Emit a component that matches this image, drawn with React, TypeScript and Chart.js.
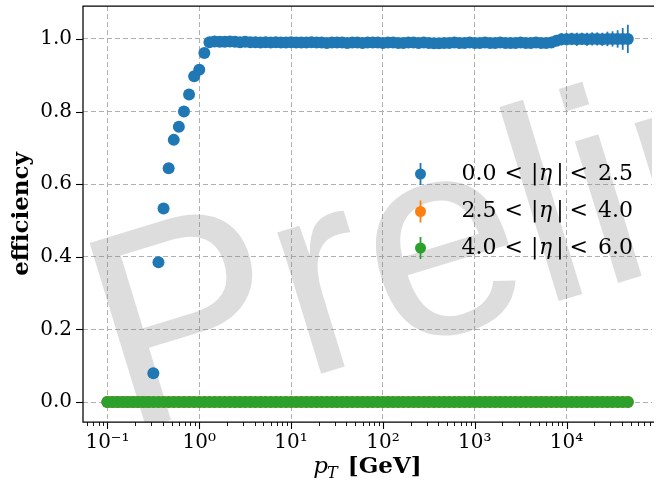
import React, { useEffect, useRef } from 'react';
import { Chart, registerables } from 'chart.js';

Chart.register(...registerables);

// ---------- data ----------
const PT_BINS = [
  0.1, 0.1136, 0.1292, 0.1468, 0.1668, 0.1896, 0.2154, 0.2448, 0.2783, 0.3162, 0.3594, 0.4084, 0.4642, 0.5275, 0.5995, 0.6813, 0.7743, 0.8799,
  1, 1.136, 1.292, 1.468, 1.668, 1.896, 2.154, 2.448, 2.783, 3.162, 3.594, 4.084, 4.642, 5.275, 5.995, 6.813, 7.743, 8.799,
  10, 11.36, 12.92, 14.68, 16.68, 18.96, 21.54, 24.48, 27.83, 31.62, 35.94, 40.84, 46.42, 52.75, 59.95, 68.13, 77.43, 87.99,
  100, 113.6, 129.2, 146.8, 166.8, 189.6, 215.4, 244.8, 278.3, 316.2, 359.4, 408.4, 464.2, 527.5, 599.5, 681.3, 774.3, 879.9,
  1000, 1136, 1292, 1468, 1668, 1896, 2154, 2448, 2783, 3162, 3594, 4084, 4642, 5275, 5995, 6813, 7743, 8799,
  10000, 11360, 12920, 14680, 16680, 18960, 21540, 24480, 27830, 31620, 35940, 40840, 46420,
];

const EFF_ETA_0_25 = [
  0, 0, 0, 0, 0, 0, 0, 0, 0,
  0.079, 0.385, 0.533, 0.644, 0.722, 0.758, 0.8, 0.847, 0.897, 0.915, 0.961, 0.991,
  0.993, 0.992, 0.992, 0.993, 0.992, 0.991, 0.992, 0.991, 0.991, 0.99, 0.991, 0.99, 0.991, 0.99, 0.99,
  0.991, 0.99, 0.99, 0.99, 0.991, 0.99, 0.99, 0.989, 0.99, 0.99, 0.99, 0.989, 0.99, 0.99, 0.989, 0.99, 0.99, 0.99,
  0.989, 0.99, 0.99, 0.989, 0.989, 0.99, 0.99, 0.989, 0.99, 0.989, 0.988, 0.988, 0.989, 0.989, 0.99, 0.989, 0.989, 0.99,
  0.989, 0.989, 0.99, 0.989, 0.989, 0.99, 0.989, 0.989, 0.989, 0.99, 0.989, 0.989, 0.99, 0.989, 0.989, 0.99,
  0.995, 0.999, 0.999, 1.0, 0.999, 1.0, 0.999, 1.0, 1.0, 0.999, 1.0, 1.0, 1.0, 1.0, 1.0,
];
const ERR_ETA_0_25 = [
  0, 0, 0, 0, 0, 0, 0, 0, 0,
  0.004, 0.004, 0.004, 0.004, 0.004, 0.004, 0.004, 0.004, 0.004, 0.004, 0.004, 0.004,
  0.004, 0.004, 0.004, 0.004, 0.004, 0.004, 0.004, 0.004, 0.004, 0.004, 0.004, 0.004, 0.004, 0.004, 0.004,
  0.005, 0.005, 0.005, 0.005, 0.005, 0.005, 0.005, 0.005, 0.005, 0.005, 0.005, 0.005, 0.005, 0.005, 0.005, 0.005, 0.005, 0.005,
  0.006, 0.006, 0.006, 0.006, 0.006, 0.006, 0.006, 0.006, 0.006, 0.006, 0.006, 0.006, 0.006, 0.006, 0.006, 0.006, 0.006, 0.006,
  0.007, 0.007, 0.007, 0.007, 0.007, 0.007, 0.007, 0.007, 0.007, 0.007, 0.007, 0.007, 0.007, 0.007, 0.007, 0.007,
  0.014, 0.017, 0.017, 0.017, 0.018, 0.017, 0.018, 0.018, 0.018, 0.018, 0.02, 0.021, 0.024, 0.03, 0.039,
];

const EFF_ETA_25_40 = [
  0, 0, 0, 0, 0, 0, 0, 0, 0, 0, 0, 0, 0, 0, 0, 0, 0, 0,
  0, 0, 0, 0, 0, 0, 0, 0, 0, 0, 0, 0, 0, 0, 0, 0, 0, 0,
  0, 0, 0, 0, 0, 0, 0, 0, 0, 0, 0, 0, 0, 0, 0, 0, 0, 0,
  0, 0, 0, 0, 0, 0, 0, 0, 0, 0, 0, 0, 0, 0, 0, 0, 0, 0,
  0, 0, 0, 0, 0, 0, 0, 0, 0, 0, 0, 0, 0, 0, 0, 0, 0, 0,
  0, 0, 0, 0, 0, 0, 0, 0, 0, 0, 0, 0, 0,
];
const EFF_ETA_40_60 = [
  0, 0, 0, 0, 0, 0, 0, 0, 0, 0, 0, 0, 0, 0, 0, 0, 0, 0,
  0, 0, 0, 0, 0, 0, 0, 0, 0, 0, 0, 0, 0, 0, 0, 0, 0, 0,
  0, 0, 0, 0, 0, 0, 0, 0, 0, 0, 0, 0, 0, 0, 0, 0, 0, 0,
  0, 0, 0, 0, 0, 0, 0, 0, 0, 0, 0, 0, 0, 0, 0, 0, 0, 0,
  0, 0, 0, 0, 0, 0, 0, 0, 0, 0, 0, 0, 0, 0, 0, 0, 0, 0,
  0, 0, 0, 0, 0, 0, 0, 0, 0, 0, 0, 0, 0,
];

const SERIES_LABELS = ['0.0 < |η| < 2.5', '2.5 < |η| < 4.0', '4.0 < |η| < 6.0'];
const SERIES_COLORS = ['#1f77b4', '#ff7f0e', '#2ca02c'];

const X_TICKS = [0.1, 1, 10, 100, 1000, 10000];
const X_TICK_LABELS = ['10⁻¹', '10⁰', '10¹', '10²', '10³', '10⁴'];
const Y_TICKS = [0, 0.2, 0.4, 0.6, 0.8, 1.0];
const Y_TICK_LABELS = ['0.0', '0.2', '0.4', '0.6', '0.8', '1.0'];
const X_MIN = 0.0542;
const X_MAX = 85100;
const Y_MIN = -0.055;
const Y_MAX = 1.0907;
const Y_TITLE = 'efficiency';
const X_TITLE_VAR = 'p';
const X_TITLE_SUB = 'T';
const X_TITLE_UNIT = '[GeV]';
const WATERMARK = 'Preliminary';

const SERIF = '"DejaVu Serif"';

const errorBarPlugin = {
  id: 'errorBars',
  beforeDatasetDraw(chart: any, args: any) {
    const ds = chart.data.datasets[args.index];
    const errs = ds.errors;
    if (!errs) return;
    const yScale = chart.scales.y;
    const ctx = chart.ctx;
    const a = chart.chartArea;
    ctx.save();
    ctx.beginPath();
    ctx.rect(a.left, a.top, a.right - a.left, a.bottom - a.top);
    ctx.clip();
    ctx.strokeStyle = ds.backgroundColor;
    ctx.lineWidth = 1.8;
    args.meta.data.forEach((pt: any, i: number) => {
      const e = errs[i];
      if (!e) return;
      const v = ds.data[i].y;
      ctx.beginPath();
      ctx.moveTo(pt.x, yScale.getPixelForValue(v - e));
      ctx.lineTo(pt.x, yScale.getPixelForValue(v + e));
      ctx.stroke();
    });
    ctx.restore();
  },
};

const watermarkPlugin = {
  id: 'watermark',
  beforeDatasetsDraw(chart: any) {
    const { ctx, chartArea: a } = chart;
    ctx.save();
    ctx.beginPath();
    ctx.rect(a.left, a.top, a.right - a.left, a.bottom - a.top);
    ctx.clip();
    ctx.translate(124, 434);
    ctx.rotate((-17 * Math.PI) / 180);
    ctx.font = '280px "Liberation Sans"';
    ctx.fillStyle = 'rgba(128,128,128,0.27)';
    ctx.textBaseline = 'alphabetic';
    ctx.textAlign = 'left';
    ctx.fillText(WATERMARK, 0, 0);
    ctx.restore();
  },
};

const axesPlugin = {
  id: 'axesDecor',
  afterDraw(chart: any) {
    const { ctx, chartArea: a, scales } = chart;
    const xs = scales.x;
    const ys = scales.y;
    ctx.save();
    ctx.strokeStyle = '#000';
    ctx.lineWidth = 1.25;
    ctx.beginPath();
    ctx.moveTo(a.right + 2, a.top);
    ctx.lineTo(a.left, a.top);
    ctx.lineTo(a.left, a.bottom);
    ctx.lineTo(a.right + 2, a.bottom);
    ctx.stroke();
    ctx.lineWidth = 1.1;
    Y_TICKS.forEach((v) => {
      const y = Math.round(ys.getPixelForValue(v)) + 0.5;
      ctx.beginPath();
      ctx.moveTo(a.left - 7, y);
      ctx.lineTo(a.left, y);
      ctx.stroke();
    });
    X_TICKS.forEach((v) => {
      const x = Math.round(xs.getPixelForValue(v)) + 0.5;
      ctx.beginPath();
      ctx.moveTo(x, a.bottom);
      ctx.lineTo(x, a.bottom + 7);
      ctx.stroke();
    });
    ctx.lineWidth = 0.9;
    for (let d = -2; d <= 4; d++) {
      for (let m = 2; m <= 9; m++) {
        const v = m * Math.pow(10, d);
        if (v < X_MIN || v > X_MAX) continue;
        const x = Math.round(xs.getPixelForValue(v)) + 0.5;
        ctx.beginPath();
        ctx.moveTo(x, a.bottom);
        ctx.lineTo(x, a.bottom + 4);
        ctx.stroke();
      }
    }
    ctx.fillStyle = '#000';
    ctx.textBaseline = 'alphabetic';
    ctx.textAlign = 'left';
    const base = 473;
    ctx.font = `bold 23px ${SERIF}`;
    const wUnit = ctx.measureText(X_TITLE_UNIT).width;
    ctx.font = `italic 23px ${SERIF}`;
    const wP = ctx.measureText(X_TITLE_VAR).width;
    ctx.font = `italic 16px ${SERIF}`;
    const wT = ctx.measureText(X_TITLE_SUB).width;
    const gap = 9;
    const total = wP + wT + gap + wUnit;
    const x0 = (a.left + a.right) / 2 - total / 2;
    ctx.font = `italic 23px ${SERIF}`;
    ctx.fillText(X_TITLE_VAR, x0, base);
    ctx.font = `italic 16px ${SERIF}`;
    ctx.fillText(X_TITLE_SUB, x0 + wP - 1, base + 5);
    ctx.font = `bold 23px ${SERIF}`;
    ctx.fillText(X_TITLE_UNIT, x0 + wP + wT + gap, base);

    const rows = [174, 211.5, 248];
    const mx = 420.5;
    const tx = 461.5;
    SERIES_LABELS.forEach((label, i) => {
      const y = rows[i];
      const col = SERIES_COLORS[i];
      ctx.strokeStyle = col;
      ctx.lineWidth = 1.8;
      ctx.beginPath();
      ctx.moveTo(mx, y - 11);
      ctx.lineTo(mx, y + 11);
      ctx.stroke();
      ctx.fillStyle = col;
      ctx.beginPath();
      ctx.arc(mx, y, 5.5, 0, Math.PI * 2);
      ctx.fill();
      const parts = label.split(' ');
      const offs = [0, 43, 69.6, 108, 136.5];
      ctx.fillStyle = '#000';
      ctx.textBaseline = 'middle';
      parts.forEach((p, j) => {
        if (p.indexOf('|') >= 0) {
          const inner = p.replace(/\|/g, '');
          ctx.font = `22px ${SERIF}`;
          ctx.fillText('|', tx + 69.6, y);
          ctx.font = `italic 22px ${SERIF}`;
          ctx.fillText(inner, tx + 77.5, y);
          ctx.font = `22px ${SERIF}`;
          ctx.fillText('|', tx + 94.8, y);
        } else {
          ctx.font = `22px ${SERIF}`;
          ctx.fillText(p, tx + offs[j], y);
        }
      });
    });
    ctx.restore();
  },
};

export default function App() {
  const ref = useRef<HTMLCanvasElement | null>(null);

  useEffect(() => {
    if (!ref.current) return;
    const effs = [EFF_ETA_0_25, EFF_ETA_25_40, EFF_ETA_40_60];
    const errs = [ERR_ETA_0_25, null, null];
    const datasets = SERIES_LABELS.map((label, i) => ({
      label,
      data: PT_BINS.map((x, k) => ({ x, y: effs[i][k] })),
      errors: errs[i],
      backgroundColor: SERIES_COLORS[i],
      borderColor: SERIES_COLORS[i],
      borderWidth: 0,
      pointRadius: 6,
      pointHoverRadius: 6,
      showLine: false,
      order: 3 - i,
    }));

    const chart = new Chart(ref.current, {
      type: 'scatter',
      data: { datasets } as any,
      options: {
        responsive: false,
        animation: false,
        events: [],
        layout: { padding: { top: 5, right: 0, left: 0, bottom: 0 } },
        plugins: { legend: { display: false }, tooltip: { enabled: false } },
        scales: {
          x: {
            type: 'logarithmic',
            position: 'bottom',
            min: X_MIN,
            max: X_MAX,
            afterBuildTicks: (s: any) => {
              s.ticks = X_TICKS.map((v) => ({ value: v, major: true }));
            },
            afterFit: (s: any) => {
              s.height = 58;
              s.paddingLeft = 0;
              s.paddingRight = 0;
            },
            ticks: {
              autoSkip: false,
              maxRotation: 0,
              minRotation: 0,
              padding: 9,
              color: '#000',
              font: { family: SERIF, size: 20 },
              callback: (_v: any, i: number) => X_TICK_LABELS[i],
            },
            grid: { color: '#b0b0b0', lineWidth: 1, drawTicks: false },
            border: { display: false, dash: [5, 3] },
          },
          y: {
            type: 'linear',
            min: Y_MIN,
            max: Y_MAX,
            afterBuildTicks: (s: any) => {
              s.ticks = Y_TICKS.map((v) => ({ value: v }));
            },
            afterFit: (s: any) => {
              s.width = 83;
              s.paddingTop = 0;
              s.paddingBottom = 0;
            },
            ticks: {
              padding: 11,
              color: '#000',
              font: { family: SERIF, size: 20 },
              callback: (_v: any, i: number) => Y_TICK_LABELS[i],
            },
            grid: { color: '#b0b0b0', lineWidth: 1, drawTicks: false },
            border: { display: false, dash: [5, 3] },
            title: {
              display: true,
              text: Y_TITLE,
              color: '#000',
              font: { family: SERIF, size: 23, weight: 'bold' },
              padding: { top: 8, bottom: 0 },
            },
          },
        },
      } as any,
      plugins: [errorBarPlugin, watermarkPlugin, axesPlugin],
    });
    return () => chart.destroy();
  }, []);

  return (
    <div style={{ position: 'fixed', left: 0, top: 0, width: 658, height: 480, background: '#fff' }}>
      <canvas ref={ref} width={658} height={480} style={{ display: 'block' }} />
    </div>
  );
}
